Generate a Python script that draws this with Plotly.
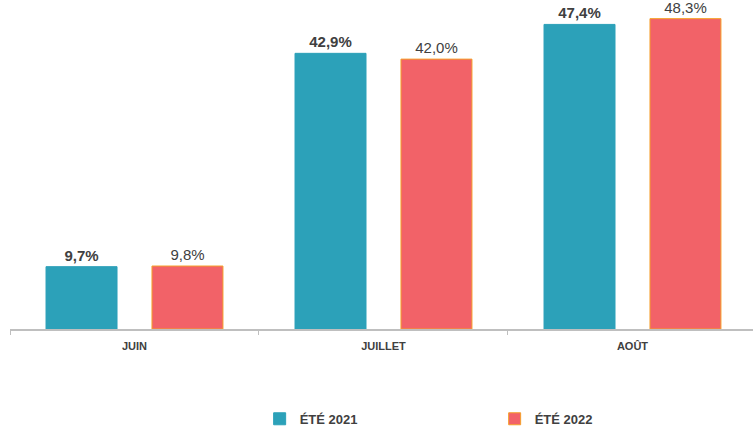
import plotly.graph_objects as go

categories = ["JUIN", "JUILLET", "AOÛT"]
series_names = ["ÉTÉ 2021", "ÉTÉ 2022"]
values_2021 = [9.7, 42.9, 47.4]
values_2022 = [9.8, 42.0, 48.3]

FONT = "Liberation Sans, Arial"

fig = go.Figure()
fig.add_trace(go.Bar(
    x=categories, y=values_2021, name=f"<b>{series_names[0]}</b>",
    marker=dict(color="#2CA1B9", line=dict(color="#2CA1B9", width=1)),
    text=[f"<b>{v:.1f}%</b>".replace(".", ",") for v in values_2021],
    textposition="outside", cliponaxis=False,
    textfont=dict(family=FONT, size=15, color="#404040"),
))
fig.add_trace(go.Bar(
    x=categories, y=values_2022, name=f"<b>{series_names[1]}</b>",
    marker=dict(color="#F26268", line=dict(color="#F5A02A", width=1)),
    text=[f"{v:.1f}%".replace(".", ",") for v in values_2022],
    textposition="outside", cliponaxis=False,
    textfont=dict(family=FONT, size=15, color="#404040"),
))

fig.update_layout(
    width=753, height=434,
    margin=dict(l=10, r=0, t=0, b=101),
    plot_bgcolor="white", paper_bgcolor="white",
    barmode="group", bargap=0.149, bargroupgap=0.33,
    font=dict(family=FONT, color="#404040"),
    showlegend=True,
    legend=dict(orientation="h", x=0.336, xanchor="left", y=-0.273, yanchor="middle",
                font=dict(size=13, color="#404040", family=FONT),
                entrywidth=190, itemwidth=30),
    xaxis=dict(
        range=[-0.5, 2.484],
        showline=True, linecolor="#BFBFBF", linewidth=1.5,
        ticks="outside", tickson="boundaries", ticklen=4, tickcolor="#BFBFBF",
        tickfont=dict(size=11, color="#404040"),
        tickprefix="<b>", ticksuffix="</b>",
        ticklabelstandoff=6,
        showgrid=False,
    ),
    yaxis=dict(range=[0, 51.2], visible=False, showgrid=False),
)
fig.write_html("out.html", config={"displayModeBar": False},
               post_script="document.body.style.margin='0';")
